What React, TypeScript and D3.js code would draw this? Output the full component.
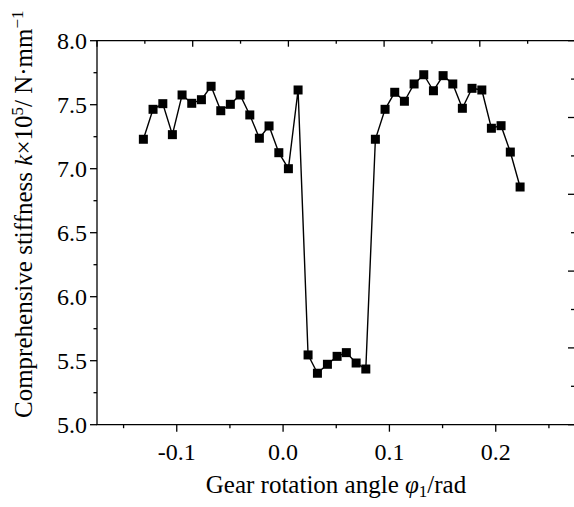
import React from "react";
import * as d3 from "d3";

const angles = [
  -0.1314, -0.1223, -0.1131, -0.1041, -0.095, -0.0859, -0.0768, -0.0677, -0.0586, -0.0496,
  -0.0404, -0.0313, -0.0223, -0.0132, -0.004, 0.005, 0.0141, 0.0235, 0.0323, 0.0417,
  0.0508, 0.0595, 0.0687, 0.0778, 0.0868, 0.0959, 0.105, 0.1141, 0.1232, 0.1323,
  0.1414, 0.1505, 0.1596, 0.1686, 0.1777, 0.1869, 0.1959, 0.205, 0.2137, 0.2229,
];
const stiffness = [
  7.23, 7.464, 7.508, 7.266, 7.576, 7.511, 7.539, 7.644, 7.453, 7.503,
  7.576, 7.42, 7.238, 7.334, 7.125, 7.0, 7.615, 5.545, 5.402, 5.472,
  5.534, 5.563, 5.482, 5.435, 7.23, 7.464, 7.597, 7.527, 7.662, 7.734,
  7.609, 7.727, 7.662, 7.472, 7.628, 7.615, 7.316, 7.336, 7.13, 6.857,
];
const xTicks = [-0.1, 0.0, 0.1, 0.2];
const xMinor = [-0.15, -0.05, 0.05, 0.15, 0.25];
const yTicks = [5.0, 5.5, 6.0, 6.5, 7.0, 7.5, 8.0];
const yMinor = [5.25, 5.75, 6.25, 6.75, 7.25, 7.75];
const mirrorTicks = [0, 0.1, 0.2, 0.3, 0.4, 0.5, 0.6, 0.7, 0.8, 0.9, 1.0];

export default function App() {
  const W = 574, H = 507;
  const left = 97, right = 575.5, top = 40.7, bottom = 424.7;
  const x = d3.scaleLinear().domain([-0.175, 0.275]).range([left, right]);
  const y = d3.scaleLinear().domain([5.0, 8.0]).range([bottom, top]);
  const xm = d3.scaleLinear().domain([0, 1]).range([left, right]);
  const ym = d3.scaleLinear().domain([0, 1]).range([bottom, top]);
  const data = angles.map((a, i) => [a, stiffness[i]] as [number, number]);
  const line = d3.line<[number, number]>().x(d => x(d[0])).y(d => y(d[1]));
  const font = "'Liberation Serif', 'Times New Roman', serif";
  const fmt = (v: number) => d3.format(".1f")(v).replace("−", "-");
  const ms = 9;
  return (
    <svg width={W} height={H} style={{ position: "absolute", left: 0, top: 0, background: "#fff" }} fontFamily={font}>
      <rect x={0} y={0} width={W} height={H} fill="#fff" />
      {/* frame lines */}
      <line x1={left} x2={left} y1={top} y2={bottom} stroke="#000" strokeWidth={1.3} />
      <line x1={left - 0.6} x2={right} y1={bottom} y2={bottom} stroke="#000" strokeWidth={1.3} />
      <line x1={left - 0.6} x2={right} y1={top} y2={top} stroke="#000" strokeWidth={1.3} />
      {/* bottom ticks */}
      {xTicks.map(t => (
        <g key={"xt" + t}>
          <line x1={x(t)} x2={x(t)} y1={bottom} y2={bottom + 7} stroke="#000" strokeWidth={1.3} />
          <text x={x(t)} y={460} fontSize={24} textAnchor="middle">{fmt(t)}</text>
        </g>
      ))}
      {xMinor.map(t => (
        <line key={"xm" + t} x1={x(t)} x2={x(t)} y1={bottom} y2={bottom + 3.5} stroke="#000" strokeWidth={1.3} />
      ))}
      {/* left ticks */}
      {yTicks.map(t => (
        <g key={"yt" + t}>
          <line x1={left - 7} x2={left} y1={y(t)} y2={y(t)} stroke="#000" strokeWidth={1.3} />
          <text x={87} y={y(t) + 8} fontSize={24} textAnchor="end">{fmt(t)}</text>
        </g>
      ))}
      {yMinor.map(t => (
        <line key={"ym" + t} x1={left - 3.5} x2={left} y1={y(t)} y2={y(t)} stroke="#000" strokeWidth={1.3} />
      ))}
      {/* top mirrored ticks */}
      {mirrorTicks.map((t, i) => (
        <line key={"tt" + i} x1={xm(t)} x2={xm(t)} y1={top} y2={top + (i % 2 === 0 ? 6 : 3)} stroke="#000" strokeWidth={1.3} />
      ))}
      {/* right mirrored ticks */}
      {mirrorTicks.map((t, i) => (
        <line key={"rt" + i} x1={574 - (i % 2 === 0 ? 6 : 3)} x2={574} y1={ym(t)} y2={ym(t)} stroke="#000" strokeWidth={1.3} />
      ))}
      {/* data */}
      <path d={line(data) || ""} fill="none" stroke="#000" strokeWidth={1.4} />
      {data.map((d, i) => (
        <rect key={"p" + i} x={x(d[0]) - ms / 2} y={y(d[1]) - ms / 2} width={ms} height={ms} fill="#000" />
      ))}
      {/* axis titles */}
      <text x={336} y={493} fontSize={25} textAnchor="middle">
        Gear rotation angle <tspan fontStyle="italic">φ</tspan><tspan fontSize={17} dy={4}>1</tspan><tspan dy={-4}>/rad</tspan>
      </text>
      <text transform={`translate(31.5, 418) rotate(-90)`} fontSize={25} textAnchor="start">
        Comprehensive stiffness <tspan fontStyle="italic">k</tspan>×10<tspan fontSize={17} dy={-9}>5</tspan><tspan dy={9}>/ N·mm</tspan><tspan fontSize={17} dy={-9}>−1</tspan>
      </text>
    </svg>
  );
}
